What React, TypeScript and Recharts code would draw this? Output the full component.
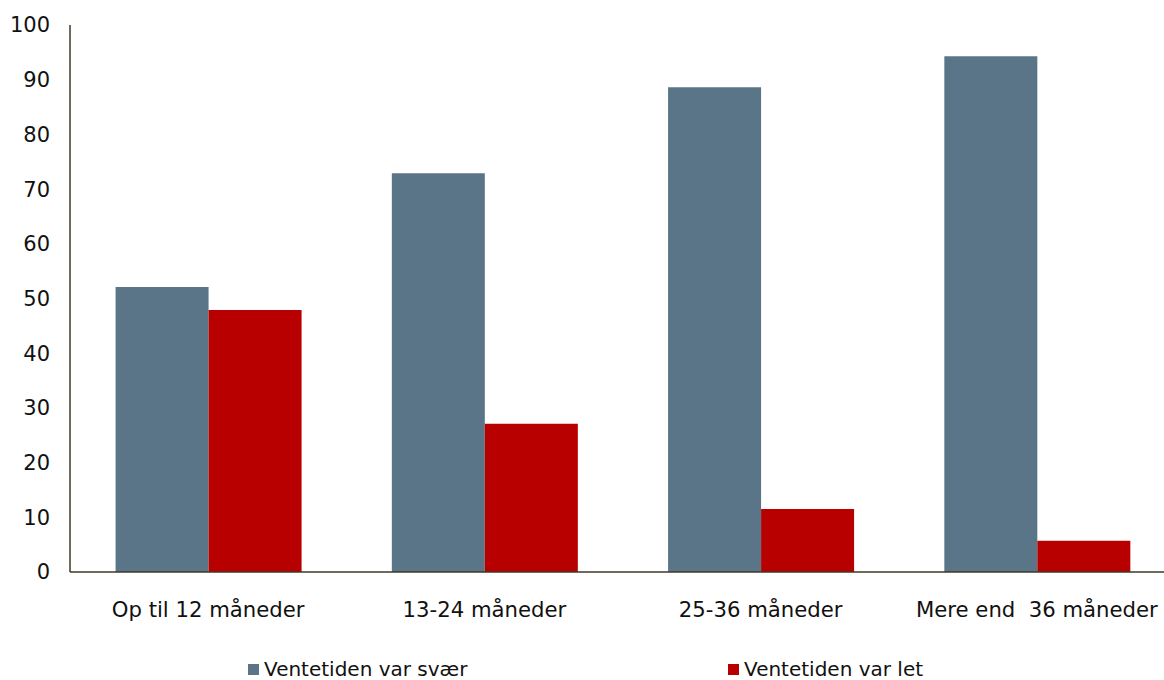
import React from 'react';
import { BarChart, Bar, XAxis, YAxis, Legend } from 'recharts';

const categories = ['Op til 12 måneder', '13-24 måneder', '25-36 måneder', 'Mere end  36 måneder'];
const svaer = [52.1, 72.9, 88.6, 94.3];
const let_ = [47.9, 27.1, 11.5, 5.7];
const yTicks = [0, 10, 20, 30, 40, 50, 60, 70, 80, 90, 100];

const SERIES = [
  { key: 'svaer', name: 'Ventetiden var svær', color: '#5a7587' },
  { key: 'let', name: 'Ventetiden var let', color: '#b80000' },
];

const data = categories.map((name, i) => ({ name, svaer: svaer[i], let: let_[i] }));

const FONT = '"DejaVu Sans", Verdana, sans-serif';
const AXIS = '#3f3826';

// custom tick so the double space in the last label survives
const CategoryTick = (props: any) => {
  const { x, y, payload } = props;
  return (
    <text
      x={x}
      y={y + 37}
      textAnchor="middle"
      fill="#111"
      fontSize={21.2}
      fontFamily={FONT}
      style={{ whiteSpace: 'pre' }}
    >
      {payload.value}
    </text>
  );
};

const LegendBox = () => (
  <div style={{ position: 'relative', height: 50, fontFamily: FONT, fontSize: 20, color: '#111' }}>
    {SERIES.map((s, i) => (
      <div
        key={s.key}
        style={{ position: 'absolute', left: 248 + i * 480, top: 27, display: 'flex', alignItems: 'center', lineHeight: '24px' }}
      >
        <span style={{ display: 'inline-block', width: 11, height: 11, background: s.color, marginRight: 5 }} />
        <span>{s.name}</span>
      </div>
    ))}
  </div>
);

export default function App() {
  return (
    <div style={{ position: 'fixed', left: 0, top: 0, width: 1164, height: 680, overflow: 'hidden', background: '#fff' }}>
      <BarChart
        width={1175}
        height={680}
        data={data}
        margin={{ top: 25, right: 0, left: 0, bottom: 0 }}
        barCategoryGap="16.5%"
        barGap={0}
      >
        <XAxis
          dataKey="name"
          axisLine={{ stroke: AXIS, strokeWidth: 1.5 }}
          tickLine={false}
          height={58}
          interval={0}
          tick={<CategoryTick />}
        />
        <YAxis
          width={70}
          domain={[0, 100]}
          ticks={yTicks}
          interval={0}
          axisLine={{ stroke: AXIS, strokeWidth: 1.5 }}
          tickLine={false}
          tickMargin={14}
          tick={{ fill: '#111', fontSize: 21, fontFamily: FONT }}
        />
        <Legend verticalAlign="bottom" height={50} content={<LegendBox />} />
        {SERIES.map((s) => (
          <Bar key={s.key} dataKey={s.key} name={s.name} fill={s.color} isAnimationActive={false} />
        ))}
      </BarChart>
    </div>
  );
}
